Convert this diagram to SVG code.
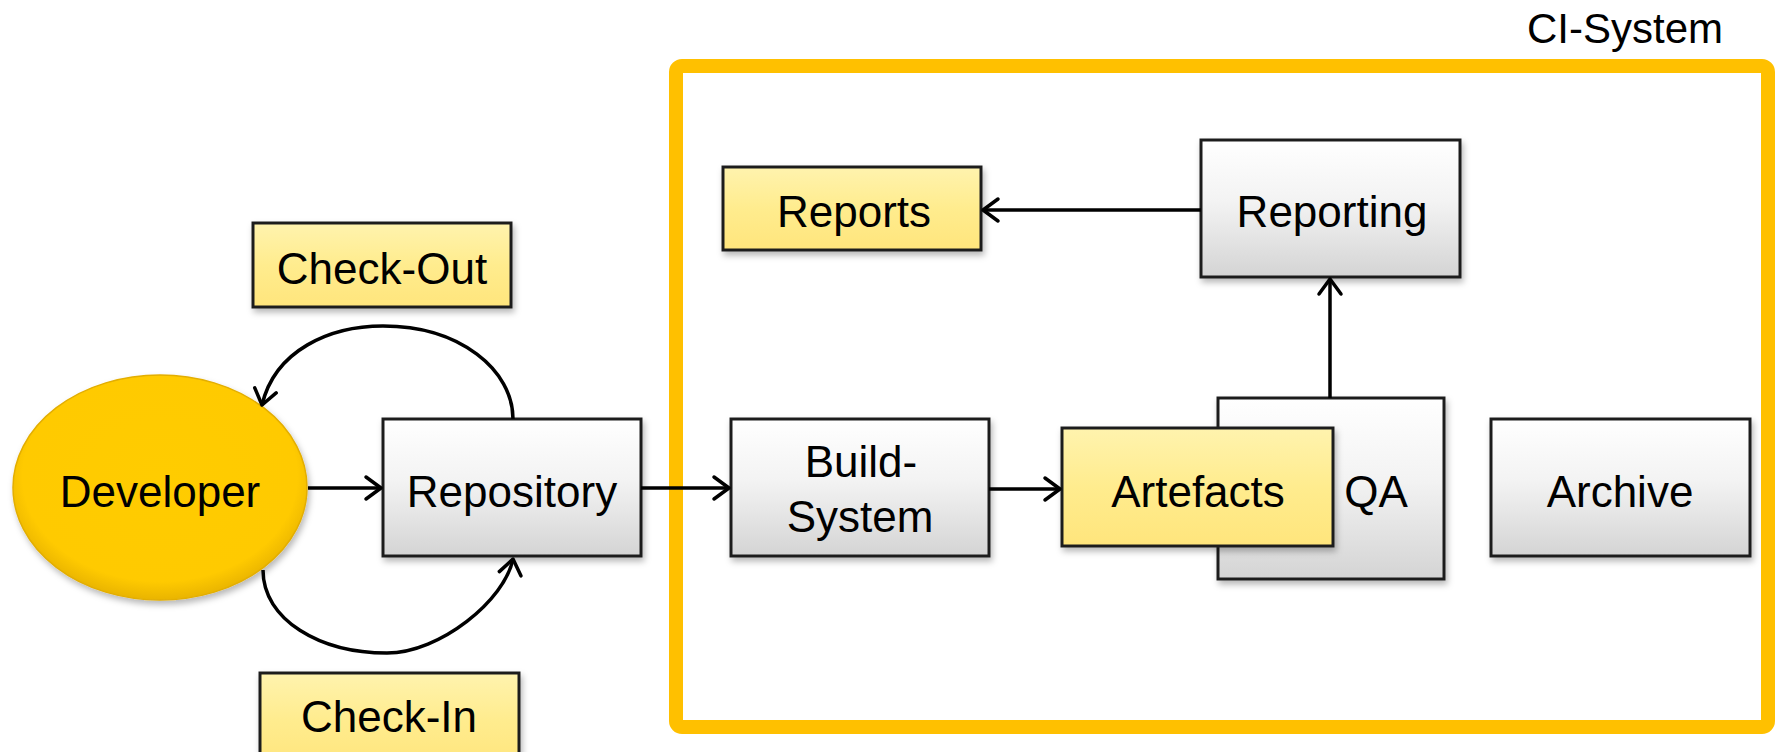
<svg xmlns="http://www.w3.org/2000/svg" width="1777" height="752" viewBox="0 0 1777 752">
  <defs>
    <linearGradient id="gGray" x1="0" y1="0" x2="0" y2="1">
      <stop offset="0" stop-color="#FFFFFF"/>
      <stop offset="0.45" stop-color="#F3F3F3"/>
      <stop offset="1" stop-color="#D4D4D4"/>
    </linearGradient>
    <linearGradient id="gYellow" x1="0" y1="0" x2="0" y2="1">
      <stop offset="0" stop-color="#FFF3AE"/>
      <stop offset="0.5" stop-color="#FFEC8E"/>
      <stop offset="1" stop-color="#FFE57C"/>
    </linearGradient>
    <radialGradient id="gDev" cx="0.5" cy="0.45" r="0.55">
      <stop offset="0" stop-color="#FFCC00"/>
      <stop offset="0.85" stop-color="#FFCA02"/>
      <stop offset="1" stop-color="#E9B400"/>
    </radialGradient>
    <filter id="shadow" x="-10%" y="-10%" width="125%" height="130%">
      <feDropShadow dx="2" dy="4" stdDeviation="3" flood-color="#000" flood-opacity="0.28"/>
    </filter>
    <marker id="arrow" markerUnits="userSpaceOnUse" markerWidth="30" markerHeight="30" viewBox="-20 -15 25 30" refX="0" refY="0" orient="auto">
      <path d="M -15,-11 L 0,0 L -15,11" fill="none" stroke="#000" stroke-width="3.5" stroke-linecap="round" stroke-linejoin="round"/>
    </marker>
  </defs>
  <style>
    .gray { fill: url(#gGray); stroke: #1E1E1E; stroke-width: 3; filter: url(#shadow); }
    .yel { fill: url(#gYellow); stroke: #1E1E1E; stroke-width: 3; filter: url(#shadow); }
    .lbl { font-family: "Liberation Sans", Arial, sans-serif; font-size: 44px; fill: #000; text-anchor: middle; }
    .conn { fill: none; stroke: #000; stroke-width: 3.5; marker-end: url(#arrow); }
  </style>
  <rect x="0" y="0" width="1777" height="752" fill="#FFFFFF"/>

  <g id="ci-system">
    <rect x="676" y="66" width="1092" height="661" rx="6" fill="none" stroke="#FFC000" stroke-width="14"/>
    <text x="1527" y="43" font-family="Liberation Sans, Arial, sans-serif" font-size="42" fill="#000">CI-System</text>
  </g>

  <g id="developer">
    <ellipse cx="160" cy="487.5" rx="147" ry="112.5" fill="url(#gDev)" stroke="#E3AE00" stroke-width="1.5" filter="url(#shadow)"/>
    <text class="lbl" x="160" y="507">Developer</text>
  </g>

  <g id="check-out">
    <rect class="yel" x="253" y="223" width="258" height="84"/>
    <text class="lbl" x="382" y="284">Check-Out</text>
  </g>

  <g id="check-in">
    <rect class="yel" x="260" y="673" width="259" height="95"/>
    <text class="lbl" x="389" y="732">Check-In</text>
  </g>

  <g id="repository">
    <rect class="gray" x="383" y="419" width="258" height="137"/>
    <text class="lbl" x="512" y="507">Repository</text>
  </g>

  <g id="build-system">
    <rect class="gray" x="731" y="419" width="258" height="137"/>
    <text class="lbl" x="861" y="477">Build-</text>
    <text class="lbl" x="860" y="532">System</text>
  </g>

  <g id="reports">
    <rect class="yel" x="723" y="167" width="258" height="83"/>
    <text class="lbl" x="854" y="227">Reports</text>
  </g>

  <g id="reporting">
    <rect class="gray" x="1201" y="140" width="259" height="137"/>
    <text class="lbl" x="1332" y="227">Reporting</text>
  </g>

  <g id="qa">
    <rect class="gray" x="1218" y="398" width="226" height="181"/>
    <text class="lbl" x="1376" y="507">QA</text>
  </g>

  <g id="artefacts">
    <rect class="yel" x="1062" y="428" width="271" height="118"/>
    <text class="lbl" x="1198" y="507">Artefacts</text>
  </g>

  <g id="archive">
    <rect class="gray" x="1491" y="419" width="259" height="137"/>
    <text class="lbl" x="1620" y="507">Archive</text>
  </g>

  <g id="connectors">
    <line class="conn" x1="308" y1="488" x2="381" y2="488"/>
    <line class="conn" x1="641" y1="488" x2="729" y2="488"/>
    <line class="conn" x1="989" y1="489" x2="1060" y2="489"/>
    <line class="conn" x1="1330" y1="398" x2="1330" y2="279"/>
    <line class="conn" x1="1201" y1="210" x2="983" y2="210"/>
    <path class="conn" d="M 513,419 C 513,370 460,326 383,326 C 330,326 275,350 262,405"/>
    <path class="conn" d="M 263,570 C 263,620 320,653 387,653 C 440,653 505,600 513,559"/>
  </g>
</svg>
